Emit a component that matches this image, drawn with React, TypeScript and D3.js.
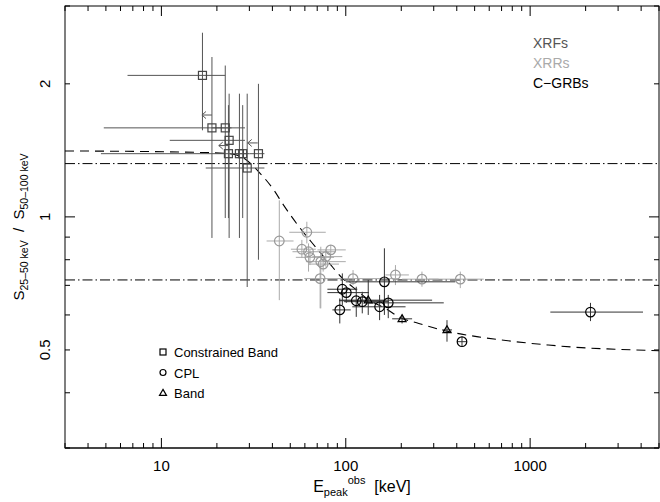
import React from "react";
import * as d3 from "d3";

// ---------- data (E_peak [keV], ratio, E_lo, E_hi, ratio_lo, ratio_hi) ----------
type Pt = [number, number, number, number, number, number];

const xrfSquares: Pt[] = [
  [16.7, 2.09, 6.55, 22.2, 1.57, 2.61],
  [18.8, 1.59, 4.87, 28.4, 0.896, 2.3],
  [22.2, 1.59, 18.7, 24.0, 0.994, 2.2],
  [23.3, 1.49, 11.1, 28.4, 0.896, 1.9],
  [23.1, 1.39, 4.7, 24.0, 0.994, 1.79],
  [26.5, 1.39, 24.0, 29.3, 0.896, 1.9],
  [27.6, 1.39, 25.2, 30.0, 0.994, 1.79],
  [33.6, 1.39, 30.0, 36.2, 0.8, 2.0],
  [29.2, 1.29, 17.4, 36.2, 0.694, 1.9],
];
// E_peak upper limits (E, ratio)
const xrfUpperLimits: [number, number][] = [
  [18.8, 1.7],
  [23.2, 1.45],
  [33.3, 1.47],
];

const xrrCircles: Pt[] = [
  [43.6, 0.882, 37.2, 52.1, 0.648, 1.09],
  [61.5, 0.923, 49.4, 77.9, 0.871, 0.975],
  [57.8, 0.845, 50.4, 68.8, 0.807, 0.887],
  [62.8, 0.834, 51.4, 88.2, 0.752, 0.871],
  [63.9, 0.81, 53.6, 86.4, 0.778, 0.842],
  [73.2, 0.792, 60.8, 100, 0.621, 0.856],
  [75.4, 0.782, 63.3, 91.9, 0.752, 0.806],
  [82.9, 0.842, 70.2, 100, 0.82, 0.864],
  [77.9, 0.813, 65.9, 95.8, 0.772, 0.842],
  [72.6, 0.725, 59.5, 91.9, 0.621, 0.772],
  [109.5, 0.725, 91.9, 194, 0.701, 0.758],
  [186, 0.739, 164, 220, 0.701, 0.778],
  [259, 0.723, 202, 319, 0.695, 0.752],
  [418, 0.723, 282, 560, 0.69, 0.752],
];

const cgrbCircles: Pt[] = [
  [162, 0.713, 100, 393, 0.6, 0.849],
  [95.8, 0.686, 79.5, 115.5, 0.632, 0.745],
  [100.7, 0.674, 79.5, 133.6, 0.639, 0.686],
  [114, 0.646, 91.9, 164, 0.594, 0.695],
  [122.9, 0.643, 97.9, 171, 0.605, 0.677],
  [152.6, 0.626, 108.5, 211, 0.584, 0.666],
  [170, 0.639, 133.6, 340, 0.59, 0.666],
  [92.8, 0.616, 84.6, 106.4, 0.574, 0.654],
  [427, 0.522, 401, 454, 0.509, 0.536],
  [2125, 0.609, 1287, 4095, 0.581, 0.639],
];
const cgrbTriangles: Pt[] = [
  [132.4, 0.648, 91.9, 294, 0.6, 0.72],
  [202, 0.588, 178.5, 229, 0.574, 0.6],
  [354, 0.555, 333, 377, 0.522, 0.584],
];

// model curve (dashed)
const modelE = [3, 15, 23.3, 27.4, 34, 40.9, 45.2, 55.9, 65.6, 81.1, 95.5, 113.8, 133.6, 165, 194, 249, 362, 545, 832, 1255, 1893, 2890, 5000];
const modelR = [1.41, 1.4, 1.39, 1.365, 1.26, 1.147, 1.075, 0.949, 0.874, 0.787, 0.728, 0.684, 0.649, 0.62, 0.594, 0.574, 0.55, 0.534, 0.522, 0.513, 0.506, 0.502, 0.498];

// class boundaries (dash-dot)
const boundaries = [1.32, 0.72];

const xTickLabels = [10, 100, 1000];
const yTickLabels = [2, 1, 0.5];
const classNames = ["XRFs", "XRRs", "C\u2212GRBs"];
const modelNames = ["Constrained Band", "CPL", "Band"];

// ---------- layout ----------
const W = 660;
const H = 502;
const L = 65, R = 659, T = 6, B = 448;
const FONT = "'Liberation Sans', Arial, Helvetica, sans-serif";

const x = d3.scaleLog().domain([3, 5000]).range([L, R]);
const y = d3.scaleLog().domain([0.3, 3]).range([B, T]);

const COL_XRF = "#555";
const COL_XRR = "#aaa";
const COL_C = "#000";

function ErrBars({ pts, color, width = 1 }: { pts: Pt[]; color: string; width?: number }) {
  return (
    <g stroke={color} strokeWidth={width} fill="none">
      {pts.map((p, i) => (
        <g key={i}>
          <line x1={x(p[2])} x2={x(p[3])} y1={y(p[1])} y2={y(p[1])} />
          <line x1={x(p[0])} x2={x(p[0])} y1={y(p[4])} y2={y(p[5])} />
        </g>
      ))}
    </g>
  );
}

function Square({ cx, cy, s, color }: { cx: number; cy: number; s: number; color: string }) {
  return <rect x={cx - s / 2} y={cy - s / 2} width={s} height={s} fill="none" stroke={color} strokeWidth={1.2} />;
}
function Circle({ cx, cy, r, color }: { cx: number; cy: number; r: number; color: string }) {
  return <circle cx={cx} cy={cy} r={r} fill="none" stroke={color} strokeWidth={1.2} />;
}
function Tri({ cx, cy, s, color }: { cx: number; cy: number; s: number; color: string }) {
  const h = s * 0.87;
  const d = `M${cx},${cy - h * 0.6}L${cx + s / 2},${cy + h * 0.4}L${cx - s / 2},${cy + h * 0.4}Z`;
  return <path d={d} fill="none" stroke={color} strokeWidth={1.2} />;
}

export default function App() {
  const modelLine = d3
    .line<number>()
    .x((_, i) => x(modelE[i]))
    .y((d) => y(d))
    .curve(d3.curveMonotoneX)(modelR) as string;

  const xTicks = x.ticks().filter((t) => t >= 3 && t <= 5000);
  const yTicks = y.ticks().filter((t) => t >= 0.3 && t <= 3);
  const isMajor = (t: number) => Math.abs(Math.log10(t) - Math.round(Math.log10(t))) < 1e-6;

  return (
    <svg
      width={W}
      height={H}
      viewBox={`0 0 ${W} ${H}`}
      style={{ position: "absolute", left: 0, top: 0, background: "#fff" }}
      fontFamily={FONT}
    >
      <defs>
        <clipPath id="plot">
          <rect x={L} y={T} width={R - L} height={B - T} />
        </clipPath>
      </defs>
      <rect x={0} y={0} width={W} height={H} fill="#fff" />

      <g clipPath="url(#plot)">
        {/* boundaries */}
        {boundaries.map((b, i) => (
          <line key={i} x1={L} x2={R} y1={y(b)} y2={y(b)} stroke="#000" strokeWidth={1} strokeDasharray="10,3,1.5,3" />
        ))}
        {/* model */}
        <path d={modelLine} fill="none" stroke="#000" strokeWidth={1.1} strokeDasharray="9,6" />

        {/* XRFs */}
        <ErrBars pts={xrfSquares} color={COL_XRF} />
        {xrfSquares.map((p, i) => (
          <Square key={i} cx={x(p[0])} cy={y(p[1])} s={8} color={"#444"} />
        ))}
        <g stroke={COL_XRF} strokeWidth={1} fill="none">
          {xrfUpperLimits.map((p, i) => {
            const x0 = x(p[0]);
            const y0 = y(p[1]);
            const x1 = x0 - 10;
            return <path key={i} d={`M${x0},${y0}L${x1},${y0}M${x1 + 4},${y0 - 3.5}L${x1},${y0}L${x1 + 4},${y0 + 3.5}`} />;
          })}
        </g>

        {/* XRRs */}
        <ErrBars pts={xrrCircles} color={COL_XRR} />
        {xrrCircles.map((p, i) => (
          <Circle key={i} cx={x(p[0])} cy={y(p[1])} r={4.8} color={"#999"} />
        ))}

        {/* C-GRBs */}
        <ErrBars pts={cgrbCircles} color={"#333"} />
        <ErrBars pts={cgrbTriangles} color={"#333"} />
        {cgrbCircles.map((p, i) => (
          <Circle key={i} cx={x(p[0])} cy={y(p[1])} r={4.8} color={COL_C} />
        ))}
        {cgrbTriangles.map((p, i) => (
          <Tri key={i} cx={x(p[0])} cy={y(p[1])} s={8} color={COL_C} />
        ))}
      </g>

      {/* frame */}
      <rect x={L} y={T} width={R - L} height={B - T} fill="none" stroke="#000" strokeWidth={1} />
      <line x1={L} x2={R} y1={B} y2={B} stroke="#444" strokeWidth={2} />

      {/* ticks */}
      <g stroke="#000" strokeWidth={1}>
        {xTicks.map((t, i) => {
          const len = isMajor(t) ? 10 : 5;
          const xx = x(t);
          return (
            <g key={i}>
              <line x1={xx} x2={xx} y1={B} y2={B - len} />
              <line x1={xx} x2={xx} y1={T} y2={T + len} />
            </g>
          );
        })}
        {yTicks.map((t, i) => {
          const len = isMajor(t) ? 10 : 5;
          const yy = y(t);
          return (
            <g key={i}>
              <line x1={L} x2={L + len} y1={yy} y2={yy} />
              <line x1={R} x2={R - len} y1={yy} y2={yy} />
            </g>
          );
        })}
      </g>

      {/* tick labels */}
      <g fontSize={15} fill="#000">
        {xTickLabels.map((t) => (
          <text key={t} x={x(t)} y={B + 23} textAnchor="middle">
            {t}
          </text>
        ))}
        {yTickLabels.map((t) => (
          <text key={t} transform={`translate(${L - 15},${y(t)}) rotate(-90)`} textAnchor="middle">
            {t}
          </text>
        ))}
      </g>

      {/* axis titles */}
      <text x={(L + R) / 2} y={492} textAnchor="middle" fontSize={16} fill="#000">
        E
        <tspan dy={4} fontSize={11}>peak</tspan>
        <tspan dy={-12} fontSize={11}>obs</tspan>
        <tspan dy={8}>{"\u00a0\u00a0[keV]"}</tspan>
      </text>
      <text transform={`translate(24,${(T + B) / 2}) rotate(-90)`} textAnchor="middle" fontSize={15} fill="#000">
        S
        <tspan dy={4} fontSize={10.5}>25–50 keV</tspan>
        <tspan dy={-4}>{"\u00a0\u00a0/\u00a0\u00a0S"}</tspan>
        <tspan dy={4} fontSize={10.5}>50–100 keV</tspan>
      </text>

      {/* class legend */}
      <g fontSize={14}>
        {classNames.map((n, i) => (
          <text key={n} x={533} y={48 + i * 20} fill={[COL_XRF, COL_XRR, COL_C][i]}>
            {n}
          </text>
        ))}
      </g>

      {/* model legend */}
      <g fontSize={13} fill="#000">
        {modelNames.map((n, i) => {
          const cy = 352 + i * 20.5;
          return (
            <g key={n}>
              {i === 0 && <Square cx={163} cy={cy} s={6} color="#000" />}
              {i === 1 && <Circle cx={163} cy={cy} r={3} color="#000" />}
              {i === 2 && <Tri cx={163} cy={cy} s={7} color="#000" />}
              <text x={174} y={cy + 5}>
                {n}
              </text>
            </g>
          );
        })}
      </g>
    </svg>
  );
}
